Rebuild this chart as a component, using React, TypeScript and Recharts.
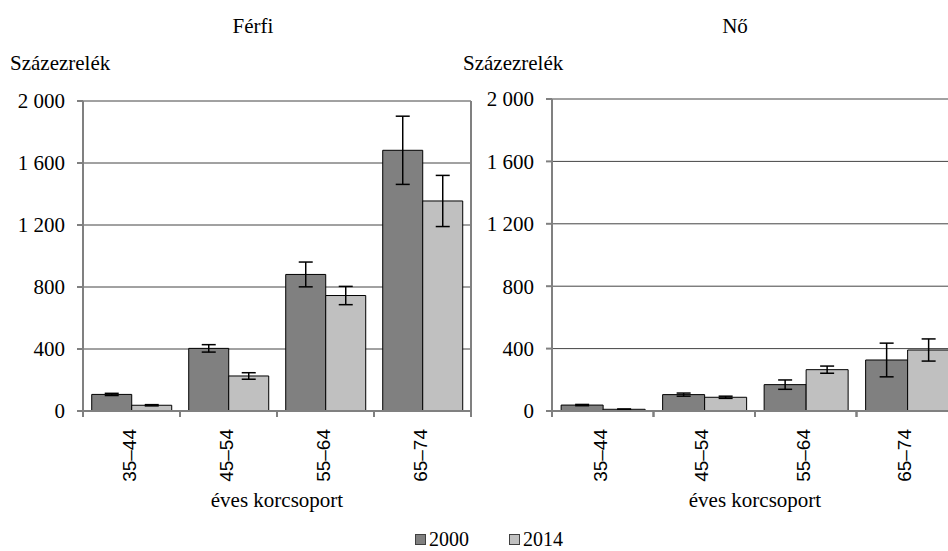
import { Bar, BarChart, CartesianGrid, ErrorBar, Legend, XAxis, YAxis } from "recharts";

const AGE_GROUPS = ["35–44", "45–54", "55–64", "65–74"];
const YEARS = ["2000", "2014"];
const Y_TICKS = [0, 400, 800, 1200, 1600, 2000];

// Férfi (men)
const MALE_2000 = [107, 404, 881, 1682];
const MALE_2000_ERR = [7, 24, 80, 220];
const MALE_2014 = [37, 226, 745, 1355];
const MALE_2014_ERR = [4, 21, 59, 165];

// Nő (women)
const FEMALE_2000 = [38, 105, 169, 327];
const FEMALE_2000_ERR = [4, 10, 30, 108];
const FEMALE_2014 = [11, 88, 265, 391];
const FEMALE_2014_ERR = [2, 7, 23, 71];

const DARK = "#808080";
const LIGHT = "#c0c0c0";
const AXIS = "#808080";
const SERIF = "'Liberation Serif', 'Times New Roman', serif";
const SANS = "'Liberation Sans', Arial, sans-serif";

const buildRows = (a: number[], ae: number[], b: number[], be: number[]) =>
  AGE_GROUPS.map((age, i) => ({ age, v2000: a[i], e2000: ae[i], v2014: b[i], e2014: be[i] }));

const maleRows = buildRows(MALE_2000, MALE_2000_ERR, MALE_2014, MALE_2014_ERR);
const femaleRows = buildRows(FEMALE_2000, FEMALE_2000_ERR, FEMALE_2014, FEMALE_2014_ERR);

const fmt = (v: number) =>
  v >= 1000 ? `${Math.floor(v / 1000)} ${String(v % 1000).padStart(3, "0")}` : String(v);

const AgeTick = ({ x, y, payload, band }: any) => {
  const tx = x + 4;
  const ty = y + 18;
  return (
    <g>
      <line x1={x - band / 2} x2={x - band / 2} y1={y} y2={y + 6} stroke={AXIS} strokeWidth={2} />
      <line x1={x + band / 2} x2={x + band / 2} y1={y} y2={y + 6} stroke={AXIS} strokeWidth={2} />
      <text
        x={tx}
        y={ty}
        transform={`rotate(-90 ${tx} ${ty})`}
        textAnchor="end"
        fontFamily={SANS}
        fontSize={19}
        fill="#000"
      >
        {payload.value}
      </text>
    </g>
  );
};

const LegendBox = () => (
  <div style={{ display: "flex", fontFamily: SERIF, fontSize: 20, lineHeight: "22px", height: 22, color: "#000" }}>
    {YEARS.map((y, i) => (
      <span key={y} style={{ display: "flex", alignItems: "center", marginRight: i === 0 ? 40 : 0 }}>
        <span
          style={{
            display: "inline-block",
            width: 9,
            height: 9,
            background: i === 0 ? DARK : LIGHT,
            border: "1px solid #404040",
            marginRight: 3,
          }}
        />
        {y}
      </span>
    ))}
  </div>
);

type PanelProps = {
  rows: any[];
  width: number;
  top: number;
  axisWidth: number;
  right: number;
  rightBorder: boolean;
  legend?: boolean;
};

const Panel = ({ rows, width, top, axisWidth, right, rightBorder, legend }: PanelProps) => {
  const plotW = width - axisWidth - right - (rightBorder ? 1 : 0);
  const band = plotW / AGE_GROUPS.length;
  return (
    <BarChart
      width={width}
      height={551}
      data={rows}
      margin={{ top, right, bottom: 0, left: 0 }}
      barCategoryGap="9%"
      barGap={0}
      style={{ fontFamily: SERIF, overflow: "visible" }}
    >
      <CartesianGrid vertical={false} stroke="#444" yAxisId="l" />
      <XAxis
        dataKey="age"
        height={140}
        axisLine={{ stroke: AXIS, strokeWidth: 2 }}
        tickLine={false}
        tickSize={0}
        tickMargin={0}
        interval={0}
        tick={<AgeTick band={band} />}
        label={{ value: "éves korcsoport", position: "insideBottom", offset: 44, fontFamily: SERIF, fontSize: 21, fill: "#000" }}
      />
      <YAxis
        yAxisId="l"
        width={axisWidth}
        domain={[0, 2000]}
        ticks={Y_TICKS}
        tickFormatter={fmt}
        axisLine={{ stroke: AXIS, strokeWidth: 2 }}
        tickLine={{ stroke: AXIS, strokeWidth: 2 }}
        tickSize={6}
        tickMargin={12}
        tick={{ fontFamily: SERIF, fontSize: 21, fill: "#000" }}
      />
      {rightBorder && (
        <YAxis
          yAxisId="r"
          orientation="right"
          width={1}
          domain={[0, 2000]}
          ticks={Y_TICKS}
          tick={false}
          tickLine={false}
          axisLine={{ stroke: AXIS, strokeWidth: 2 }}
        />
      )}
      <Bar yAxisId="l" dataKey="v2000" name="2000" fill={DARK} stroke="#000" strokeWidth={1} isAnimationActive={false}>
        <ErrorBar dataKey="e2000" width={7} stroke="#000" strokeWidth={1.5} />
      </Bar>
      <Bar yAxisId="l" dataKey="v2014" name="2014" fill={LIGHT} stroke="#000" strokeWidth={1} isAnimationActive={false}>
        <ErrorBar dataKey="e2014" width={7} stroke="#000" strokeWidth={1.5} />
      </Bar>
      {legend && (
        <Legend
          layout="horizontal"
          verticalAlign="middle"
          align="center"
          content={<LegendBox />}
          wrapperStyle={{ position: "absolute", left: 415, top: 528, width: 220, height: 22 }}
        />
      )}
    </BarChart>
  );
};

const label = (text: string, left: number, top: number, center = false) => (
  <div
    style={{
      position: "absolute",
      left,
      top,
      fontFamily: SERIF,
      fontSize: 21,
      lineHeight: "24px",
      color: "#000",
      transform: center ? "translateX(-50%)" : undefined,
      whiteSpace: "nowrap",
    }}
  >
    {text}
  </div>
);

export default function App() {
  return (
    <div
      style={{
        position: "absolute",
        left: 0,
        top: 0,
        width: 948,
        height: 551,
        overflow: "hidden",
        background: "#fff",
        fontFamily: SERIF,
      }}
    >
      {label("Férfi", 253, 14, true)}
      {label("Nő", 735, 14, true)}
      {label("Százezrelék", 10, 51)}
      {label("Százezrelék", 463, 51)}
      <div style={{ position: "absolute", left: 0, top: 0 }}>
        <Panel rows={maleRows} width={480} top={101} axisWidth={83} right={8} rightBorder legend />
      </div>
      <div style={{ position: "absolute", left: 470, top: 0 }}>
        <Panel rows={femaleRows} width={500} top={99} axisWidth={82} right={12} rightBorder={false} />
      </div>
    </div>
  );
}
